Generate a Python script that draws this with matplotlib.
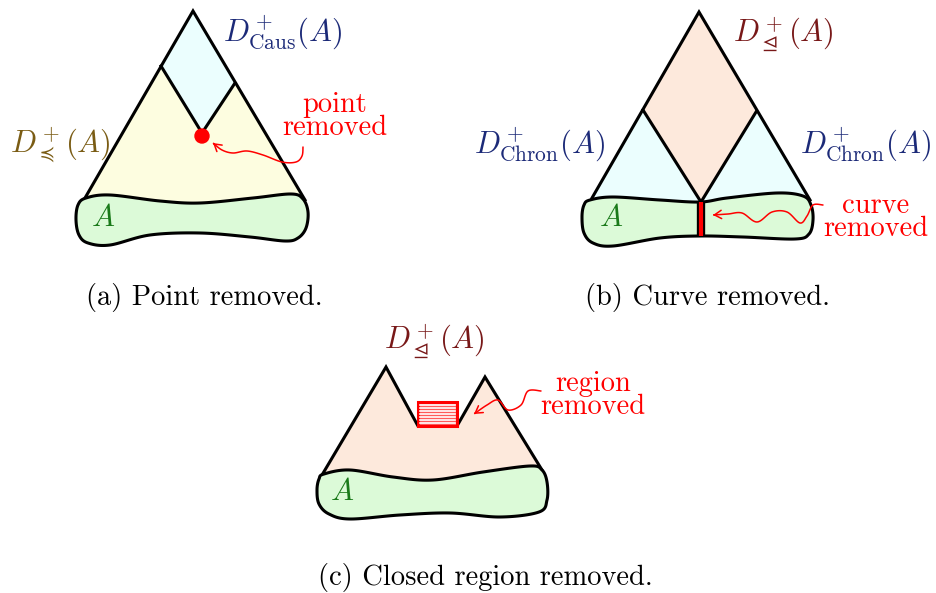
import numpy as np
import matplotlib.pyplot as plt
from matplotlib.path import Path
from matplotlib.patches import FancyArrowPatch, Polygon, Rectangle, Circle

plt.rcParams['mathtext.fontset'] = 'cm'

W, H = 937, 593
fig = plt.figure(figsize=(W/100., H/100.), dpi=100)
ax = fig.add_axes([0, 0, 1, 1], xlim=(0, W), ylim=(H, 0))
ax.axis('off')

# colours
c_yellow = '#fdfde0'
c_cyan   = '#ebfefe'
c_green  = '#dcfad8'
c_peach  = '#fde9dc'
c_navy   = '#1c2a78'
c_olive  = '#7a5c14'
c_maroon = '#781818'
c_dgreen = '#1a7a1a'

# --- shapes (pixel coords of the reference) ---
tri_a     = [(85, 198), (193, 11), (305, 200)]
diamond_a = [(193, 11), (161, 66), (202, 133), (235, 83)]
blob_a = [(86, 198), (110, 195), (160, 201), (200, 203), (253, 198), (291, 194),
          (303, 199), (308, 212), (306, 228), (298, 238), (285, 241), (250, 237),
          (200, 233), (150, 235), (110, 245), (88, 243), (79, 235), (76, 220),
          (78, 205)]
dot_a = (202, 136)

tri_b     = [(592, 198), (699, 12), (810, 200)]
diamond_b = [(699, 12), (643, 110), (701, 202), (756, 112)]
blob_b = [(590, 200), (613, 197), (660, 200), (700, 202), (727, 198), (777, 193),
          (803, 196), (811, 205), (813, 220), (809, 234), (795, 239), (743, 237),
          (700, 236), (660, 238), (613, 246), (593, 243), (584, 233), (582, 217),
          (584, 205)]
bar_b = [(701, 202), (701, 236)]

mount_c = [(322, 475), (386, 367), (418, 426), (457, 426), (485, 377), (542, 470)]
blob_c = [(324, 474), (350, 470), (393, 477), (433, 480), (483, 472), (530, 466),
          (542, 470), (547, 482), (547, 500), (539, 512), (500, 517), (450, 513),
          (400, 515), (350, 519), (329, 514), (319, 504), (317, 490), (319, 479)]
rect_c = (418, 402, 39, 24)

squiggle_a = [(303, 147), (302, 156), (296, 162), (282, 162), (263, 155),
              (247, 151), (233, 153), (222, 150), (213, 143)]
squiggle_b = [(823, 205), (813, 205), (807, 216), (800, 223), (787, 212),
              (772, 212), (757, 222), (742, 213), (728, 214), (713, 215)]
squiggle_c = [(541, 391), (528, 391), (521, 405), (508, 410), (498, 400),
              (487, 405), (474, 414)]


def catmull(pts, closed=False, n=20):
    p = np.array(pts, float)
    if closed:
        p = np.vstack([p[-1], p, p[0], p[1]])
    else:
        p = np.vstack([p[0], p, p[-1]])
    out = []
    t = np.linspace(0, 1, n, endpoint=False)[:, None]
    for i in range(1, len(p) - 2):
        p0, p1, p2, p3 = p[i-1], p[i], p[i+1], p[i+2]
        seg = 0.5*((2*p1) + (-p0 + p2)*t + (2*p0 - 5*p1 + 4*p2 - p3)*t**2
                   + (-p0 + 3*p1 - 3*p2 + p3)*t**3)
        out.append(seg)
    out.append(p[-2][None, :])
    return np.vstack(out)


def blob(pts):
    xy = catmull(pts, closed=True)
    ax.add_patch(Polygon(xy, closed=True, fc=c_green, ec='black', lw=2.2, zorder=3))


def fill(pts, fc, z=1):
    ax.add_patch(Polygon(pts, closed=True, fc=fc, ec='none', zorder=z))


def edges(pts, z=2):
    xs, ys = zip(*pts)
    ax.plot(xs, ys, color='black', lw=2.2, solid_joinstyle='miter', zorder=z)


def squiggle(pts):
    xy = catmull(pts, n=12)
    arr = FancyArrowPatch(path=Path(xy), arrowstyle='->,head_length=5,head_width=3',
                          color='red', lw=1.1, zorder=6)
    ax.add_patch(arr)


lab = dict(fontsize=22, va='center', ha='left')
red = dict(fontsize=20.5, color='red', family='cmr10', ha='center', va='center',
           linespacing=0.85)
cap = dict(fontsize=20.5, family='cmr10', ha='center', va='center')

# ---------- (a) ----------
fill(tri_a + [(305, 215), (85, 215)], c_yellow)
fill(diamond_a, c_cyan, 1.5)
edges([tri_a[0], tri_a[1], tri_a[2]])
edges(diamond_a[1:])
blob(blob_a)
ax.add_patch(Circle(dot_a, 7, color='red', zorder=5))
squiggle(squiggle_a)
ax.text(223, 33, r'$D^+_{\mathrm{Caus}}(A)$', color=c_navy, **lab)
ax.text(10, 145, r'$D^+_{\preccurlyeq}(A)$', color=c_olive, **lab)
ax.text(91, 217, r'$A$', color=c_dgreen, **lab)
ax.text(335, 116, 'point\nremoved', **red)
ax.text(204, 297, '(a) Point removed.', **cap)

# ---------- (b) ----------
fill(tri_b + [(810, 215), (592, 215)], c_cyan)
fill(diamond_b, c_peach, 1.5)
edges(tri_b)
edges(diamond_b[1:])
blob(blob_b)
bx, by = zip(*bar_b)
ax.plot(bx, by, color='black', lw=6, solid_capstyle='butt', zorder=4)
ax.plot(bx, by, color='red', lw=3, solid_capstyle='butt', zorder=4.5)
squiggle(squiggle_b)
ax.text(733, 35, r'$D^+_{\trianglelefteq}(A)$', color=c_maroon, **lab)
ax.text(474, 145, r'$D^+_{\mathrm{Chron}}(A)$', color=c_navy, **lab)
ax.text(800, 145, r'$D^+_{\mathrm{Chron}}(A)$', color=c_navy, **lab)
ax.text(599, 218, r'$A$', color=c_dgreen, **lab)
ax.text(876, 217, 'curve\nremoved', **red)
ax.text(708, 297, '(b) Curve removed.', **cap)

# ---------- (c) ----------
fill(mount_c + [(542, 490), (322, 490)], c_peach)
edges(mount_c)
blob(blob_c)
x0, y0, w, h = rect_c
ax.add_patch(Rectangle((x0, y0), w, h, fc='#ff5a5a', ec='red', lw=2.2, zorder=4))
for yy in np.linspace(y0 + 3, y0 + h - 3, 7):
    ax.plot([x0 + 2, x0 + w - 2], [yy, yy], color='white', lw=1.2, zorder=4.5)
squiggle(squiggle_c)
ax.text(384, 342, r'$D^+_{\trianglelefteq}(A)$', color=c_maroon, **lab)
ax.text(330, 492, r'$A$', color=c_dgreen, **lab)
ax.text(593, 395, 'region\nremoved', **red)
ax.text(485, 577, '(c) Closed region removed.', **cap)

fig.savefig('out.png', dpi=100)
